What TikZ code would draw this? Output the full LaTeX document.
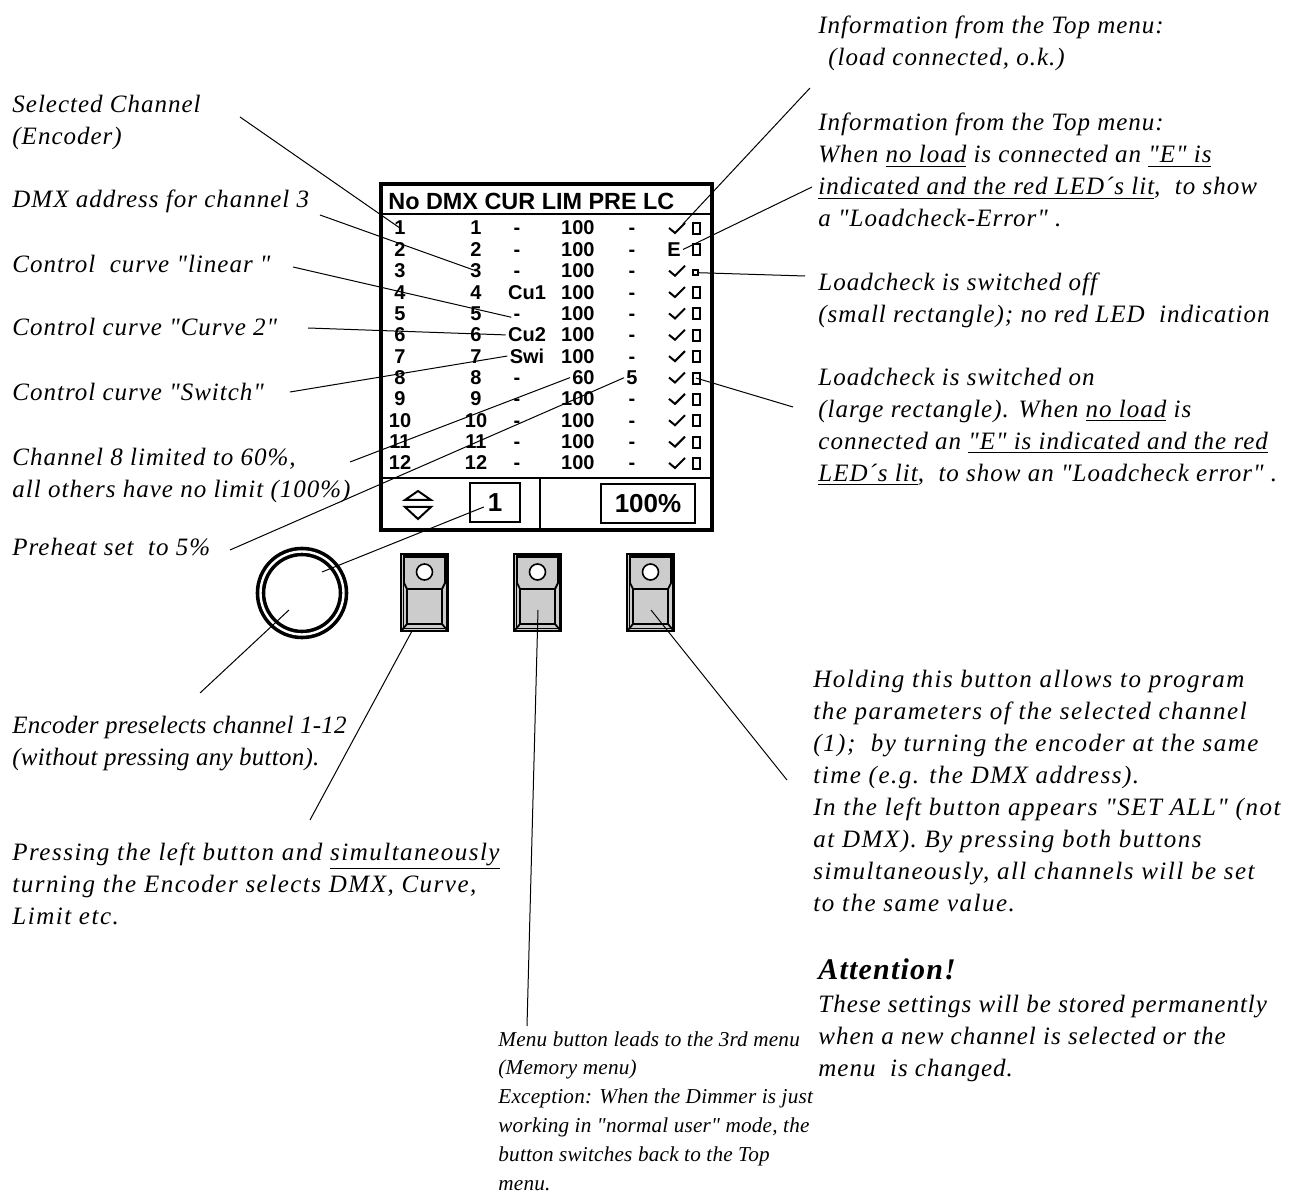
\documentclass[tikz,border=0pt]{standalone}
\usepackage{fontspec}
\setmainfont{Liberation Serif}
\newfontfamily\annofont[LetterSpace=4]{Liberation Serif}
\newfontfamily\widefont[LetterSpace=6]{Liberation Serif}
\newfontfamily\tightfont[LetterSpace=1]{Liberation Serif}
\newfontfamily\dispfont{Liberation Sans}
\usetikzlibrary{positioning,calc}
\definecolor{btngray}{HTML}{CCCCCC}

\begin{document}
\begin{tikzpicture}[
        x=0.5pt, y=-0.5pt,
        anno/.style={font=\annofont\itshape\fontsize{12.5}{16}\selectfont,align=left,anchor=north west,inner sep=0pt},
        wideanno/.style={anno,font=\widefont\itshape\fontsize{12.5}{16}\selectfont},
        tightanno/.style={anno,font=\tightfont\itshape\fontsize{12.5}{16}\selectfont},
        smallanno/.style={anno,font=\tightfont\itshape\fontsize{10.6}{14.4}\selectfont},
        leader/.style={line width=0.5pt},
        cell/.style={font=\dispfont\bfseries\fontsize{10}{12}\selectfont,anchor=base,inner sep=1pt},
        bigcell/.style={font=\dispfont\bfseries\fontsize{13}{15}\selectfont,draw,line width=1pt,inner sep=0pt,minimum height=19.5pt},
        lcbox/.style={draw,line width=1pt,inner sep=0pt,minimum width=3.5pt,minimum height=5.5pt}
    ]
        \useasboundingbox (0,0) rectangle (1296,1197);

        % display frame
        \draw[line width=2.3pt] (381,184) rectangle (712,530);
        \draw[line width=1.1pt] (381,214) -- (712,214);
        \draw[line width=1.1pt] (381,478) -- (712,478);
        \draw[line width=1.3pt] (540,478) -- (540,530);
        \node[font=\dispfont\bfseries\fontsize{11.7}{14}\selectfont,anchor=base west,inner sep=0pt] (hdr) at (388,210) {No DMX CUR LIM PRE LC};

        % channel rows
        \foreach \i/\cur/\cx/\lim/\pre in {1/-/517/100/-,2/-/517/100/-,3/-/517/100/-,4/Cu1/527/100/-,
            5/-/517/100/-,6/Cu2/527/100/-,7/Swi/527/100/-,8/-/517/60/5,9/-/517/100/-,
            10/-/517/100/-,11/-/517/100/-,12/-/517/100/-} {
            \pgfmathsetmacro\ry{235+(\i-1)*21.36}
            \node[cell] (n\i) at (400,\ry) {\i};
            \node[cell] (d\i) at (476,\ry) {\i};
            \node[cell] (c\i) at (\cx,\ry) {\cur};
            \node[cell,anchor=base east] (l\i) at (597,\ry) {\lim};
            \node[cell] (p\i) at (632,\ry) {\pre};
        }
        % loadcheck column
        \foreach \i in {1,3,4,5,6,7,8,9,10,11,12} {
            \pgfmathsetmacro\ry{235+(\i-1)*21.36}
            \draw[line width=1pt] (669,\ry-7) -- (675,\ry-2) -- (685,\ry-12);
            \coordinate (ck\i) at (683,\ry-11);
        }
        \foreach \i in {1,2,4,5,6,7,8,9,10,11,12} {
            \pgfmathsetmacro\ry{235+(\i-1)*21.36}
            \node[lcbox] (r\i) at (696,\ry-6.5) {};
        }
        \node[lcbox,minimum width=2.5pt,minimum height=2.5pt] (r3) at (695,{235+2*21.36-5}) {};
        \node[cell] (e2) at (674,{235+21.36}) {E};

        % bottom line of the display
        \draw[line width=1pt] (405,500) -- (431,500) -- (418,491) -- cycle;
        \draw[line width=1pt] (405,507) -- (431,507) -- (418,519) -- cycle;
        \node[bigcell,minimum width=25pt] (selbox) at (495,502.5) {1};
        \node[bigcell,minimum width=47pt] (pctbox) at (648,503.5) {100\%};

        % encoder and buttons
        \node[circle,draw,double,line width=1.8pt,double distance=1.2pt,minimum size=41.5pt,inner sep=0pt] (enc) at (302,593) {};
        \coordinate (enc-a) at (322,572);
        \coordinate (enc-b) at (289,610);
        \foreach \bx/\bn in {401/btnl,514/btnm,627/btnr} {
            \begin{scope}[shift={(\bx,554)}]
                \draw[line width=0.9pt,fill=btngray] (0,0) rectangle (47,77);
                \draw[line width=0.5pt] (2,2) rectangle (45,75);
                \draw[line width=0.9pt] (3,3) -- (44,3) -- (44,29) -- (41,35) -- (41,70) -- (6,70) -- (6,35) -- (3,29) -- cycle;
                \draw[line width=0.9pt] (6,35) -- (41,35);
                \draw[line width=0.9pt] (6,70) -- (1,76);
                \draw[line width=0.9pt] (41,70) -- (46,76);
                \draw[line width=0.8pt,fill=white] (23.5,18) circle (8);
                \coordinate (\bn) at (24,56);
            \end{scope}
        }
        \coordinate (btnl-foot) at (412,631);

        % annotations, left
        \node[anno] (t-selch) at (12,95) {Selected Channel\\(Encoder)};
        \node[anno] (t-dmx) at (12,190) {DMX address for channel 3};
        \node[anno] (t-lin) at (12,255) {Control\ \ curve "linear\ "};
        \node[anno] (t-cu2) at (12,318) {Control curve "Curve 2"};
        \node[anno] (t-swi) at (12,383) {Control curve "Switch"};
        \node[anno] (t-lim) at (12,448) {Channel 8 limited to 60\%,\\all others have no limit (100\%)};
        \node[anno] (t-pre) at (12,538) {Preheat set\ \ to 5\%};
        \node[tightanno] (t-enc) at (12,716) {Encoder preselects channel 1-12\\(without pressing any button).};
        \node[wideanno] (t-press) at (12,842) {Pressing the left button and \underline{simultaneously}\\turning the Encoder selects DMX, Curve,\\Limit etc.};
        \node[smallanno] (t-menu) at (498,1031) {Menu button leads to the 3rd menu\\(Memory menu)\\Exception: When the Dimmer is just\\working in "normal user" mode, the\\button switches back to the Top\\menu.};

        % annotations, right
        \node[anno] (t-info1) at (818,16) {Information from the Top menu:\\\hspace{0.4em}(load connected, o.k.)};
        \node[anno] (t-info2) at (818,113) {Information from the Top menu:\\When \underline{no load} is connected an \underline{"E" is}\\\underline{indicated and the red LED´s lit},\ \ to show\\a "Loadcheck-Error" .};
        \node[anno] (t-lcoff) at (818,273) {Loadcheck is switched off\\(small rectangle); no red LED\ \ indication};
        \node[anno] (t-lcon) at (818,368) {Loadcheck is switched on\\(large rectangle). When \underline{no load} is\\connected an \underline{"E" is indicated and the red}\\\underline{LED´s lit},\ \ to show an "Loadcheck error" .};
        \node[wideanno] (t-hold) at (813,670) {Holding this button allows to program\\the parameters of the selected channel\\(1);\ \ by turning the encoder at the same\\time (e.g. the DMX address).\\In the left button appears "SET ALL" (not\\at DMX). By pressing both buttons\\simultaneously, all channels will be set\\to the same value.};
        \node[anno,font=\annofont\itshape\bfseries\fontsize{15}{18}\selectfont] (t-att) at (818,958) {Attention!};
        \node[anno] (t-store) at (818,995) {These settings will be stored permanently\\when a new channel is selected or the\\menu\ \ is changed.};

        % leader ends
        \coordinate (a-selch) at (240,117);
        \coordinate (a-dmx) at (320,215);
        \coordinate (a-lin) at (293,267);
        \coordinate (a-cu2) at (308,328);
        \coordinate (a-swi) at (290,392);
        \coordinate (a-lim) at (350,462);
        \coordinate (a-pre) at (230,550);
        \coordinate (a-enc) at (200,693);
        \coordinate (a-press) at (310,820);
        \coordinate (a-menu) at (527,1026);
        \coordinate (a-hold) at (787,780);
        \coordinate (a-info1) at (810,88);
        \coordinate (a-info2) at (812,187);
        \coordinate (a-lcoff) at (805,276);
        \coordinate (a-lcon) at (793,407);

        % leaders
        \draw[leader] (a-selch) -- (n1.center);
        \draw[leader] (a-dmx) -- (d3.center);
        \draw[leader] (a-lin) -- (c5.west);
        \draw[leader] (a-cu2) -- (c6.west);
        \draw[leader] (a-swi) -- (c7.west);
        \draw[leader] (a-lim) -- (l8.west);
        \draw[leader] (a-pre) -- (p8.west);
        \draw[leader,shorten >=6pt] (enc-a) -- (selbox.center);
        \draw[leader] (enc-b) -- (a-enc);
        \draw[leader] (btnl-foot) -- (a-press);
        \draw[leader] (btnm) -- (a-menu);
        \draw[leader] (btnr) -- (a-hold);
        \draw[leader] (a-info1) -- (ck1);
        \draw[leader] (a-info2) -- (e2.east);
        \draw[leader] (a-lcoff) -- (r3.east);
        \draw[leader] (a-lcon) -- (r8.center);
    \end{tikzpicture}
\end{document}
